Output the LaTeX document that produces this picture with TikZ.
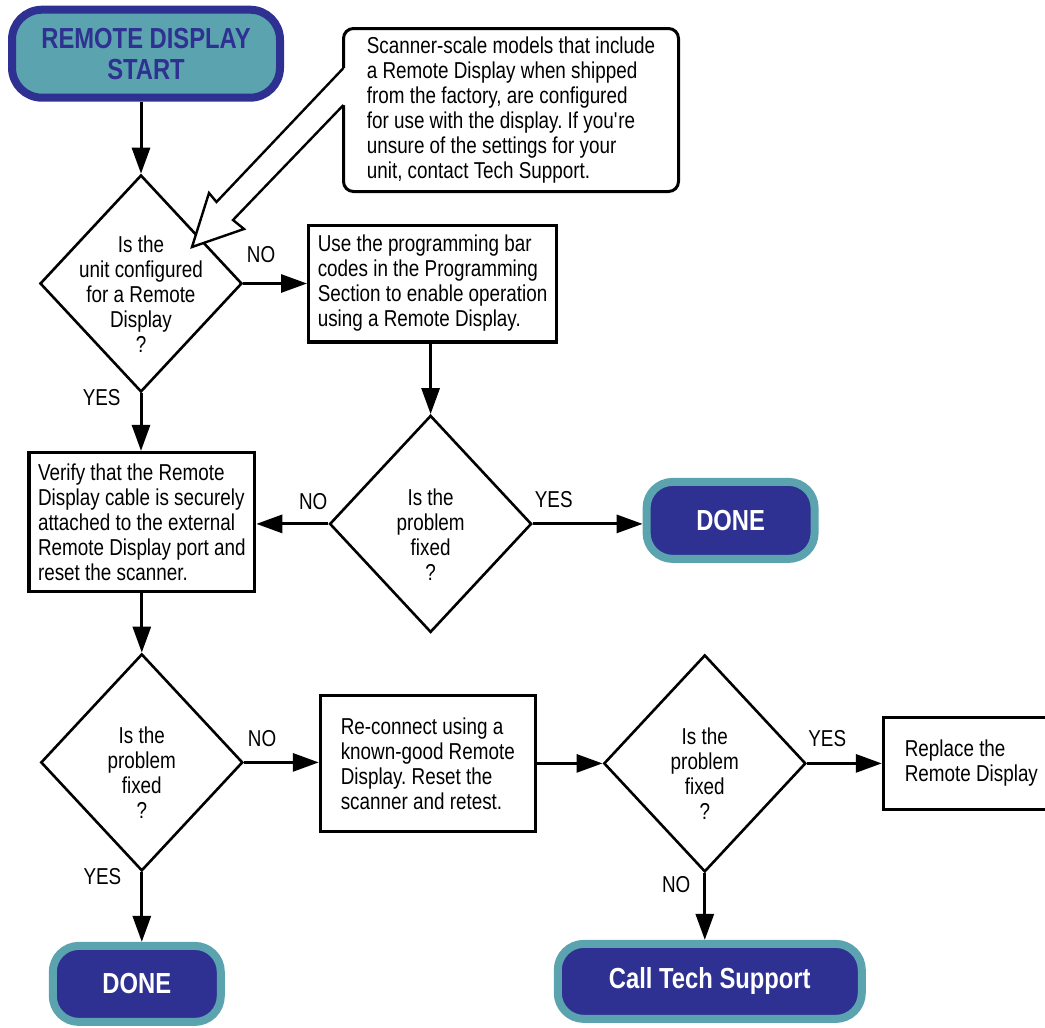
\documentclass[tikz,border=0pt]{standalone}
\usepackage{fontspec}
\setmainfont{Liberation Sans}[FakeStretch=0.82]
\usetikzlibrary{positioning,shapes.geometric,arrows.meta}
\definecolor{RDteal}{HTML}{5BA3AE}
\definecolor{RDnavy}{HTML}{2E3192}
\frenchspacing

\begin{document}
\begin{tikzpicture}[
    x=0.5pt, y=-0.5pt,
    font=\fontsize{11.5}{12.5}\selectfont,
    startnode/.style={rectangle, rounded corners=15pt, draw=RDnavy, fill=RDteal, line width=4pt, minimum width=134pt, minimum height=44pt, align=center, text=RDnavy, font=\fontsize{14.5}{15.5}\selectfont\bfseries},
    endnode/.style={rectangle, rounded corners=13pt, draw=RDteal, fill=RDnavy, line width=4pt, text=white, font=\fontsize{14.5}{16}\selectfont\bfseries},
    decision/.style={diamond, draw, line width=1.3pt, minimum width=101pt, minimum height=108.5pt, inner sep=0pt},
    qtext/.style={align=center, yshift=-5.25pt},
    process/.style={rectangle, draw, line width=1.6pt, align=left},
    remark/.style={rectangle, rounded corners=5pt, draw, line width=1.5pt, align=left, minimum width=167.5pt, minimum height=81.5pt},
    lbl/.style={inner sep=0pt},
    arr/.style={line width=1.5pt, -{Triangle[length=13pt, width=9pt]}}
]
\useasboundingbox (0,0) rectangle (1045,1028);

% --- left column: start and first check ---
\node[decision, label={[qtext]center:{Is the\\unit configured\\for a Remote\\Display\\?}}] (Q1) at (141,283.5) {};
\node[startnode, above=36pt of Q1, xshift=2.5pt] (Start) {REMOTE DISPLAY\\START};
\node[remark] (Hint) at (511,110) {Scanner-scale models that include\\a Remote Display when shipped\\from the factory, are configured\\for use with the display. If you\textquotesingle re\\unsure of the settings for your\\unit, contact Tech Support.};

% --- programming branch ---
\node[process, right=31.85pt of Q1, minimum width=124pt, minimum height=58.4pt] (Prog) {Use the programming bar\\codes in the Programming\\Section to enable operation\\using a Remote Display.};
\node[decision, below=35.3pt of Prog, xshift=-1pt, label={[qtext]center:{Is the\\problem\\fixed\\?}}] (Q2) {};
\node[endnode, right=54.85pt of Q2, yshift=1.75pt, minimum width=84pt, minimum height=38.5pt] (Done1) {DONE};
\node[process, left=36pt of Q2, yshift=1pt, minimum width=112.9pt, minimum height=69.4pt] (Cable) {Verify that the Remote\\Display cable is securely\\attached to the external\\Remote Display port and\\reset the scanner.};

% --- bottom row ---
\node[decision, below=29.85pt of Cable, label={[qtext]center:{Is the\\problem\\fixed\\?}}] (Q3) {};
\node[endnode, below=34.85pt of Q3, xshift=-2.5pt, minimum width=84pt, minimum height=38pt] (Done2) {DONE};
\node[process, right=37.35pt of Q3, yshift=-0.5pt, minimum width=107.4pt, minimum height=67.9pt] (Swap) {Re-connect using a\\known-good Remote\\Display. Reset the\\scanner and retest.};
\node[decision, right=32.85pt of Swap, label={[qtext]center:{Is the\\problem\\fixed\\?}}] (Q4) {};
\node[process, right=37.35pt of Q4, minimum width=88pt, minimum height=45.9pt] (Replace) {Replace the\\Remote Display};
\node[endnode, below=33.35pt of Q4, xshift=2.5pt, minimum width=152pt, minimum height=37.5pt] (Call) {Call Tech Support};

% --- connectors ---
\draw[arr] (Q1.north |- Start.south) -- (Q1.north);
\draw[arr] (Q1.east) -- (Prog.west) node[lbl, pos=0.28, above=9.5pt] {NO};
\draw[arr] (Q1.south) -- (Q1.south |- Cable.north) node[lbl, pos=0.07, left=9.5pt] {YES};
\draw[arr] (Prog.south -| Q2.north) -- (Q2.north);
\draw[arr] (Q2.west) -- (Q2.west -| Cable.east) node[lbl, pos=0.21, above=6.5pt] {NO};
\draw[arr] (Q2.east) -- (Q2.east -| Done1.west) node[lbl, pos=0.19, above=7.5pt] {YES};
\draw[arr] (Cable.south) -- (Q3.north);
\draw[arr] (Q3.east) -- (Q3.east -| Swap.west) node[lbl, pos=0.24, above=7pt] {NO};
\draw[arr] (Q3.south) -- (Q3.south |- Done2.north) node[lbl, pos=0.06, left=9.5pt] {YES};
\draw[arr] (Swap.east) -- (Swap.east -| Q4.west);
\draw[arr] (Q4.east) -- (Q4.east -| Replace.west) node[lbl, pos=0.27, above=7.5pt] {YES};
\draw[arr] (Q4.south) -- (Q4.south |- Call.north) node[lbl, pos=0.175, left=6.5pt] {NO};

% hollow pointer from the remark to the first question
\coordinate (tip) at (192,247);
\fill[white] (343.5,68) -- (216.5,202) -- (209,193) -- (tip) -- (244,229) -- (233,220) -- (343.5,105) -- (347,105) -- (347,68) -- cycle;
\draw[line width=1.2pt] (343.5,68) -- (216.5,202) -- (209,193) -- (tip) -- (244,229) -- (233,220) -- (343.5,105);
\end{tikzpicture}
\end{document}
